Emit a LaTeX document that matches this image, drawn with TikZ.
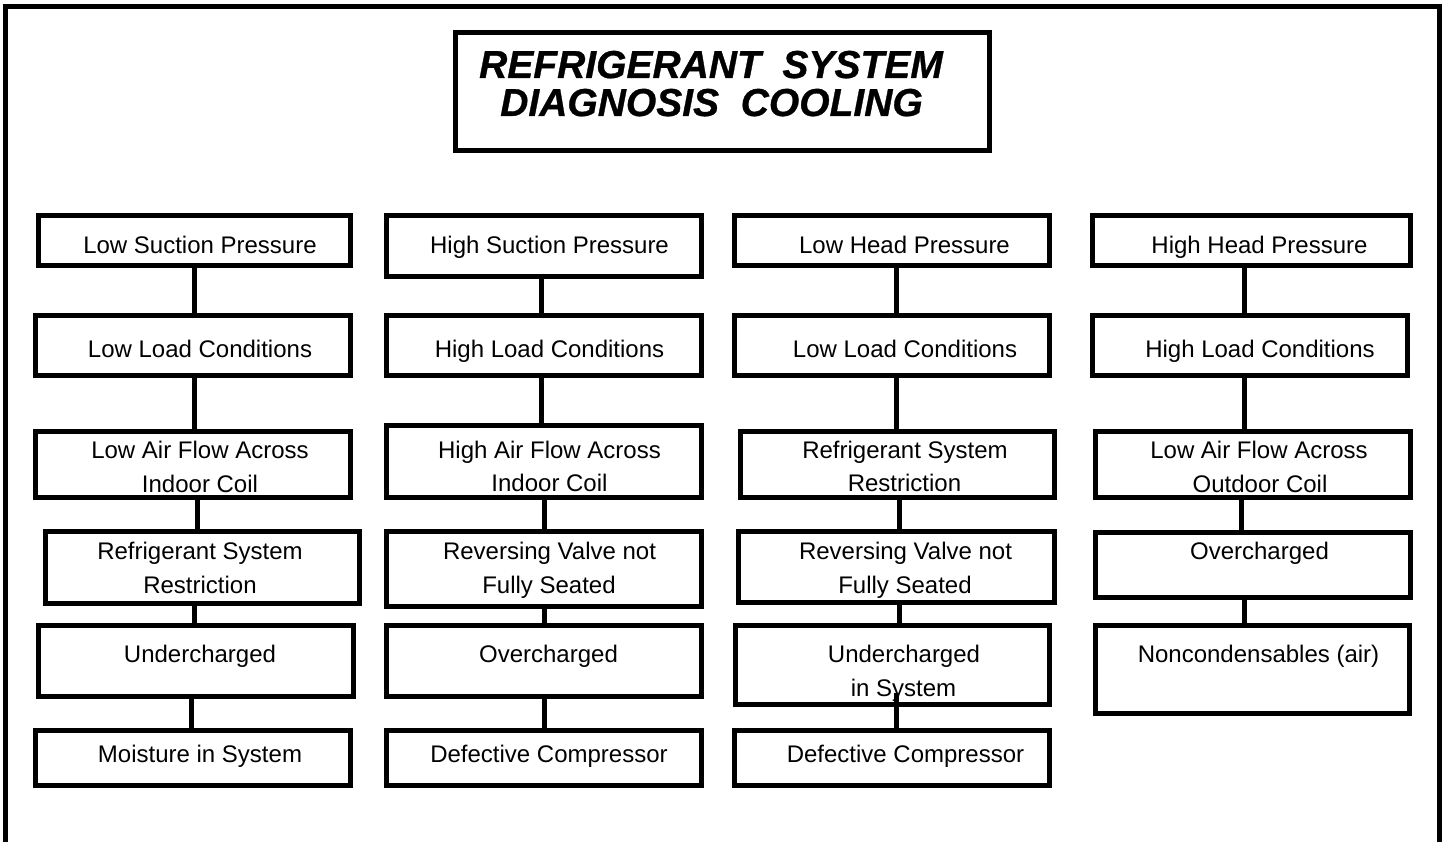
\documentclass[tikz,border=0pt]{standalone}
\usepackage{fontspec}
\setmainfont{Liberation Sans}
\newfontfamily\titlefont[FakeBold=0.8]{Liberation Sans Bold Italic}
\begin{document}
\begin{tikzpicture}[x=1pt,y=-1pt,
  box/.style={draw=black, line width=5pt, rectangle, inner sep=0pt},
  txt/.style={anchor=base, inner sep=0pt, font=\fontsize{24}{28}\selectfont},
  ttl/.style={anchor=base, inner sep=0pt, font=\titlefont\fontsize{39}{40}\selectfont},
  conn/.style={draw=black, line width=5pt},
  frame/.style={draw=black, line width=5pt}]
\useasboundingbox (0,0) rectangle (1443,842);
\fill[white] (0,0) rectangle (1443,842);
% outer frame (bottom edge lies outside the picture)
\draw[frame] (5,880) -- (5,6.5) -- (1439,6.5) -- (1439,880);

% title
\node[box, minimum width=534pt, minimum height=118pt] (T) at (722.5,91.5) {};
\node[ttl] (T1) at (711,78) {REFRIGERANT\ \ SYSTEM};
\node[ttl] (T2) at (711.5,116) {DIAGNOSIS\ \ COOLING};

% column 1
\node[box, minimum width=312pt, minimum height=50pt] (A1) at (194.5,240.5) {};
\node[box, minimum width=315pt, minimum height=60pt] (A2) at (193,345.5) {};
\node[box, minimum width=315pt, minimum height=66pt] (A3) at (193,464.5) {};
\node[box, minimum width=314pt, minimum height=72pt] (A4) at (202.5,567.5) {};
\node[box, minimum width=315pt, minimum height=71pt] (A5) at (196,661) {};
\node[box, minimum width=315pt, minimum height=55pt] (A6) at (193,758) {};
\node[txt] (A1t) at (200,254) {Low Suction Pressure};
\node[txt] (A2t) at (200,357) {Low Load Conditions};
\node[txt] (A3t) at (200,458) {Low Air Flow Across};
\node[txt] (A3u) at (200,492) {Indoor Coil};
\node[txt] (A4t) at (200,559) {Refrigerant System};
\node[txt] (A4u) at (200,593) {Restriction};
\node[txt] (A5t) at (200,662) {Undercharged};
\node[txt] (A6t) at (200,762) {Moisture in System};

% column 2
\node[box, minimum width=315pt, minimum height=61pt] (B1) at (544,246) {};
\node[box, minimum width=315pt, minimum height=60pt] (B2) at (544,345.5) {};
\node[box, minimum width=315pt, minimum height=72pt] (B3) at (544,461.5) {};
\node[box, minimum width=315pt, minimum height=75pt] (B4) at (544,569) {};
\node[box, minimum width=315pt, minimum height=71pt] (B5) at (544,661) {};
\node[box, minimum width=315pt, minimum height=55pt] (B6) at (544,758) {};
\node[txt] (B1t) at (549.5,254) {High Suction Pressure};
\node[txt] (B2t) at (549.5,357) {High Load Conditions};
\node[txt] (B3t) at (549.5,458) {High Air Flow Across};
\node[txt] (B3u) at (549.5,491) {Indoor Coil};
\node[txt] (B4t) at (549.5,559) {Reversing Valve not};
\node[txt] (B4u) at (549,593) {Fully Seated};
\node[txt] (B5t) at (548.5,662) {Overcharged};
\node[txt] (B6t) at (549,762) {Defective Compressor};

% column 3
\node[box, minimum width=315pt, minimum height=50pt] (C1) at (892,240.5) {};
\node[box, minimum width=315pt, minimum height=60pt] (C2) at (892,345.5) {};
\node[box, minimum width=314pt, minimum height=66pt] (C3) at (897.5,464.5) {};
\node[box, minimum width=316pt, minimum height=71pt] (C4) at (896.5,567) {};
\node[box, minimum width=314pt, minimum height=79pt] (C5) at (892.5,665) {};
\node[box, minimum width=315pt, minimum height=55pt] (C6) at (892,758) {};
\node[txt] (C1t) at (904.5,254) {Low Head Pressure};
\node[txt] (C2t) at (905,357) {Low Load Conditions};
\node[txt] (C3t) at (905,458) {Refrigerant System};
\node[txt] (C3u) at (904.5,491) {Restriction};
\node[txt] (C4t) at (905.5,559) {Reversing Valve not};
\node[txt] (C4u) at (905,593) {Fully Seated};
\node[txt] (C5t) at (904,662) {Undercharged};
\node[txt] (C5u) at (903.5,696) {in System};
\node[txt] (C6t) at (905.5,762) {Defective Compressor};

% column 4
\node[box, minimum width=318pt, minimum height=50pt] (D1) at (1251.5,240.5) {};
\node[box, minimum width=315pt, minimum height=60pt] (D2) at (1250,345.5) {};
\node[box, minimum width=315pt, minimum height=66pt] (D3) at (1253,464.5) {};
\node[box, minimum width=315pt, minimum height=65pt] (D4) at (1253,565) {};
\node[box, minimum width=314pt, minimum height=88pt] (D5) at (1252.5,669.5) {};
\node[txt] (D1t) at (1259.5,254) {High Head Pressure};
\node[txt] (D2t) at (1260,357) {High Load Conditions};
\node[txt] (D3t) at (1259,458) {Low Air Flow Across};
\node[txt] (D3u) at (1260,492) {Outdoor Coil};
\node[txt] (D4t) at (1259.5,559) {Overcharged};
\node[txt] (D5t) at (1258.5,662) {Noncondensables (air)};

% connectors
\draw[conn] (A1.south -| 194,0) -- (A2.north -| 194,0);
\draw[conn] (A2.south -| 194,0) -- (A3.north -| 194,0);
\draw[conn] (A3.south -| 197,0) -- (A4.north -| 197,0);
\draw[conn] (A4.south -| 194,0) -- (A5.north -| 194,0);
\draw[conn] (A5.south -| 191,0) -- (A6.north -| 191,0);

\draw[conn] (B1.south -| 541.5,0) -- (B2.north -| 541.5,0);
\draw[conn] (B2.south -| 541.5,0) -- (B3.north -| 541.5,0);
\draw[conn] (B3.south -| 544.5,0) -- (B4.north -| 544.5,0);
\draw[conn] (B4.south -| 544.5,0) -- (B5.north -| 544.5,0);
\draw[conn] (B5.south -| 544.5,0) -- (B6.north -| 544.5,0);

\draw[conn] (C1.south -| 896.5,0) -- (C2.north -| 896.5,0);
\draw[conn] (C2.south -| 896.5,0) -- (C3.north -| 896.5,0);
\draw[conn] (C3.south -| 899.5,0) -- (C4.north -| 899.5,0);
\draw[conn] (C4.south -| 899.5,0) -- (C5.north -| 899.5,0);
\draw[conn] (C6.north -| 896.5,0) -- ++(0,-35);

\draw[conn] (D1.south -| 1244.5,0) -- (D2.north -| 1244.5,0);
\draw[conn] (D2.south -| 1244.5,0) -- (D3.north -| 1244.5,0);
\draw[conn] (D3.south -| 1241.5,0) -- (D4.north -| 1241.5,0);
\draw[conn] (D4.south -| 1244.5,0) -- (D5.north -| 1244.5,0);
\end{tikzpicture}
\end{document}
